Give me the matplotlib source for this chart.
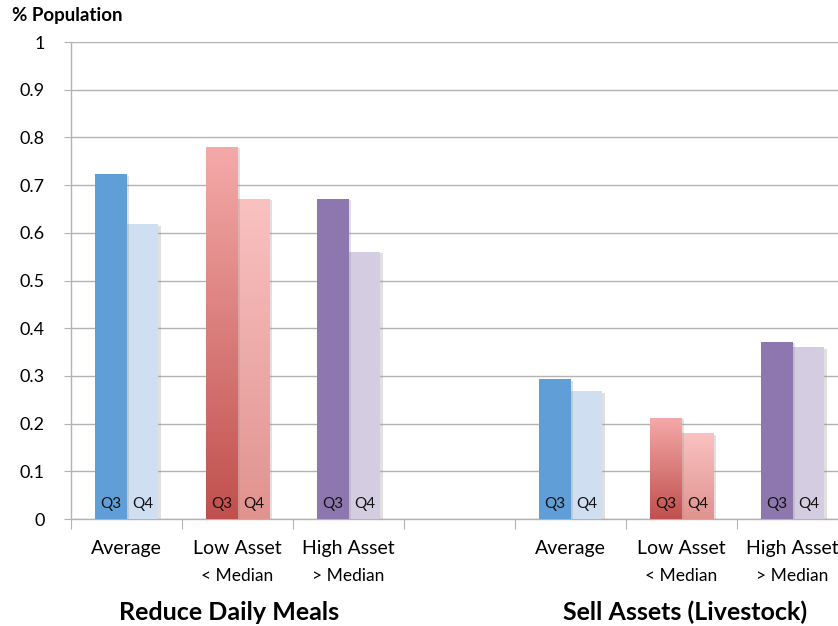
import numpy as np
import matplotlib
matplotlib.use("Agg")
import matplotlib.pyplot as plt
import matplotlib.patheffects as pe
from matplotlib.colors import LinearSegmentedColormap

plt.rcParams['font.family'] = ['Lato', 'DejaVu Sans']

# ---- data ----
groups = ["Reduce Daily Meals", "Sell Assets (Livestock)"]
segments = ["Average", "Low Asset", "High Asset"]
sublabels = ["", "< Median", "> Median"]
quarters = ["Q3", "Q4"]
meals_q3 = [0.723, 0.780, 0.671]
meals_q4 = [0.618, 0.671, 0.560]
sell_q3 = [0.293, 0.212, 0.371]
sell_q4 = [0.268, 0.180, 0.360]
yticks = [0, 0.1, 0.2, 0.3, 0.4, 0.5, 0.6, 0.7, 0.8, 0.9, 1]
ytick_labels = ["0", "0.1", "0.2", "0.3", "0.4", "0.5", "0.6", "0.7", "0.8", "0.9", "1"]

# colours per segment: (Q3, Q4); low-asset bars use vertical gradients
solid = {0: ("#5F9ED6", "#CFDFF1"), 2: ("#8D77AE", "#D4CCE0")}
grad = {  # (top, bottom)
    "Q3": ("#F4AAA9", "#C0504D"),
    "Q4": ("#F9C2C1", "#E0938F"),
}

W, H = 838, 626
fig = plt.figure(figsize=(W / 100, H / 100), dpi=100)
ax = fig.add_axes([71 / W, (H - 519) / H, (848 - 71) / W, 477 / H])

grid_c = "#B3B3B3"
ax.set_xlim(-0.5, 6.5)
ax.set_ylim(0, 1)
ax.set_yticks(yticks)
ax.set_yticklabels(ytick_labels, fontsize=13)
ax.yaxis.grid(True, color=grid_c, linewidth=1)
ax.set_axisbelow(True)
ax.set_xticks(np.arange(-0.5, 7, 1))
ax.set_xticklabels([])
ax.tick_params(axis="y", length=5, color=grid_c, pad=14)
ax.tick_params(axis="x", length=7, color=grid_c)
for s in ["top", "right"]:
    ax.spines[s].set_visible(False)
for s in ["left", "bottom"]:
    ax.spines[s].set_color(grid_c)
    ax.spines[s].set_linewidth(1)

bw = 0.288
shadow = [pe.SimplePatchShadow(offset=(2, -1), shadow_rgbFace="#999999", alpha=0.3), pe.Normal()]
title_shift = [-0.08, 0.03]

data = [(meals_q3, meals_q4), (sell_q3, sell_q4)]
for g, (q3, q4) in enumerate(data):
    base = g * 4
    for i in range(3):
        x = base + i
        for k, (vals, qname) in enumerate(zip((q3, q4), quarters)):
            xc = x - bw / 2 + k * bw
            v = vals[i]
            if i in solid:
                b = ax.bar(xc, v, width=bw, color=solid[i][k], zorder=3 - k * 0.1)[0]
                b.set_path_effects(shadow)
            else:
                top, bot = grad[qname]
                b = ax.bar(xc, v, width=bw, color=top, zorder=3 - k * 0.1)[0]
                b.set_path_effects(shadow)
                cmap = LinearSegmentedColormap.from_list("g", [bot, top])
                img = ax.imshow(np.linspace(0, 1, 256).reshape(-1, 1), cmap=cmap,
                                origin="lower", aspect="auto",
                                extent=(xc - bw / 2, xc + bw / 2, 0, v),
                                zorder=3.05 - k * 0.1)
                img.set_clip_path(b)
            ax.text(xc, 0.032, qname, ha="center", va="center", fontsize=11,
                    color="#111111", zorder=5)
        ax.text(x, -0.062, segments[i], ha="center", va="center", fontsize=14,
                clip_on=False)
        if sublabels[i]:
            ax.text(x, -0.12, sublabels[i], ha="center", va="center", fontsize=12.5,
                    clip_on=False)
    ax.text(base + 1 + title_shift[g], -0.195, groups[g], ha="center", va="center",
            fontsize=18, fontweight="bold", clip_on=False)

ax.set_xlim(-0.5, 6.5)
ax.set_ylim(0, 1)
fig.text(12 / W, 1 - 16 / H, "% Population", ha="left", va="center",
         fontsize=13.5, fontweight="bold")

fig.savefig("out.png", dpi=100)
